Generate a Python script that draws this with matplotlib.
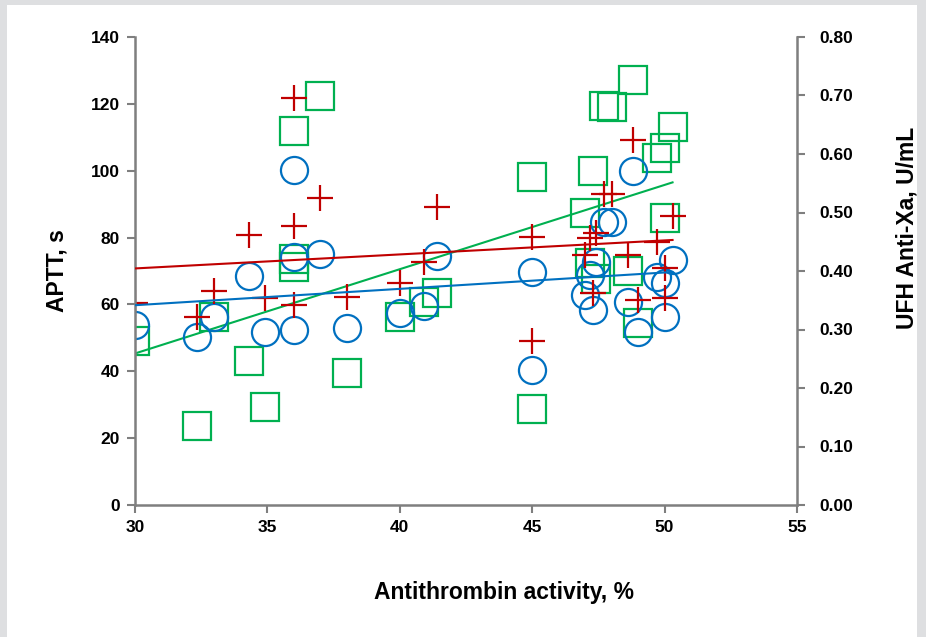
import numpy as np
import matplotlib
matplotlib.use("Agg")
import matplotlib.pyplot as plt
from matplotlib.patches import Rectangle

plt.rcParams['font.family'] = ['Liberation Sans', 'DejaVu Sans']
plt.rcParams['font.weight'] = 'bold'

# antithrombin activity, % (one value per patient)
at_activity = [30, 32.35, 33.0, 34.3, 34.9, 36, 36, 36, 37, 38, 40, 40.9, 41.4, 45, 45,
               47.0, 47.2, 47.3, 47.4, 47.7, 48.0, 48.6, 48.8, 49.0, 49.7, 50.0, 50.0, 50.3]

# APTT, s - first method (blue circles)
aptt_circle = [53.8, 50.3, 56.1, 68.4, 51.7, 100.2, 74.2, 52.3, 75.1, 53.0, 57.5, 59.5, 74.5, 69.7, 40.4,
               62.8, 68.8, 58.2, 72.7, 84.6, 84.6, 60.7, 99.9, 51.9, 68.1, 66.5, 56.2, 73.4]

# APTT, s - second method (red crosses)
aptt_cross = [60.5, 56.3, 64.1, 80.7, 62.0, 121.8, 83.5, 59.8, 91.9, 62.1, 66.5, 72.7, 89.0, 80.1, 49.2,
              74.8, 79.8, 63.3, 81.3, 93.0, 93.0, 74.8, 109.2, 61.3, 78.8, 70.9, 61.8, 86.4]

# UFH anti-Xa, U/mL (green squares, right axis)
anti_xa = [0.281, 0.135, 0.321, 0.247, 0.168, 0.639, 0.420, 0.406, 0.699, 0.225, 0.321, 0.347, 0.363, 0.560, 0.164,
           0.500, 0.413, 0.571, 0.386, 0.682, 0.681, 0.400, 0.727, 0.311, 0.593, 0.610, 0.490, 0.647]

blue = '#0070C0'
red = '#C00000'
green = '#00B050'
spine_col = '#7f7f7f'

fig = plt.figure(figsize=(9.26, 6.37), dpi=100)
fig.patch.set_facecolor('#dedfe1')
fig.patches.append(Rectangle((7 / 926, 0), 910 / 926, 632 / 637, transform=fig.transFigure,
                             facecolor='white', edgecolor='none', zorder=-5))

ax = fig.add_axes([135 / 926, 1 - 505 / 637, 662 / 926, 468 / 637])
ax2 = ax.twinx()
ax.set_zorder(2)
ax2.set_zorder(1)
ax.patch.set_visible(False)
ax2.patch.set_visible(False)

x = np.array(at_activity)
xs = np.array([min(at_activity), max(at_activity)])

# trend lines
for y, col, a in [(aptt_circle, blue, ax), (aptt_cross, red, ax), (anti_xa, green, ax2)]:
    k, b = np.polyfit(x, np.array(y), 1)
    a.plot(xs, k * xs + b, color=col, lw=1.5, zorder=3)

ax2.plot(x, anti_xa, ls='none', marker='s', ms=19.5, mfc='none', mec=green, mew=1.6, zorder=2)
ax.plot(x, aptt_circle, ls='none', marker='o', ms=19.5, mfc='none', mec=blue, mew=1.6, zorder=2)
ax.plot(x, aptt_cross, ls='none', marker='+', ms=19, mec=red, mew=1.6, zorder=2)

ax.set_xlim(30, 55)
ax.set_ylim(0, 140)
ax2.set_ylim(0, 0.8)
ax.set_xticks(range(30, 56, 5))
ax.set_yticks(range(0, 141, 20))
ax2.set_yticks(np.arange(0, 0.81, 0.1))
ax2.set_yticklabels([f'{v:.2f}' for v in np.arange(0, 0.81, 0.1)])

for a in (ax, ax2):
    for s in a.spines.values():
        s.set_color(spine_col)
        s.set_linewidth(1.8)
    a.spines['top'].set_visible(False)
    a.tick_params(colors=spine_col, width=1.5, length=6, labelsize=12.5, labelcolor='black', pad=5)
ax2.tick_params(axis='y', pad=10)
ax.spines['right'].set_visible(False)
ax2.spines['left'].set_visible(False)
ax2.spines['bottom'].set_visible(False)
for lab in ax.get_xticklabels() + ax.get_yticklabels() + ax2.get_yticklabels():
    lab.set_fontweight('bold')

fig.text(504 / 926, 1 - 592 / 637, 'Antithrombin activity, %', ha='center', va='center',
         fontsize=16.5, fontweight='bold')
fig.text(57 / 926, 1 - 271 / 637, 'APTT, s', ha='center', va='center', rotation=90,
         fontsize=16.5, fontweight='bold')
fig.text(907 / 926, 1 - 228 / 637, 'UFH Anti-Xa, U/mL', ha='center', va='center', rotation=90,
         fontsize=16.5, fontweight='bold')

fig.savefig('out.png', dpi=100, facecolor=fig.get_facecolor())
